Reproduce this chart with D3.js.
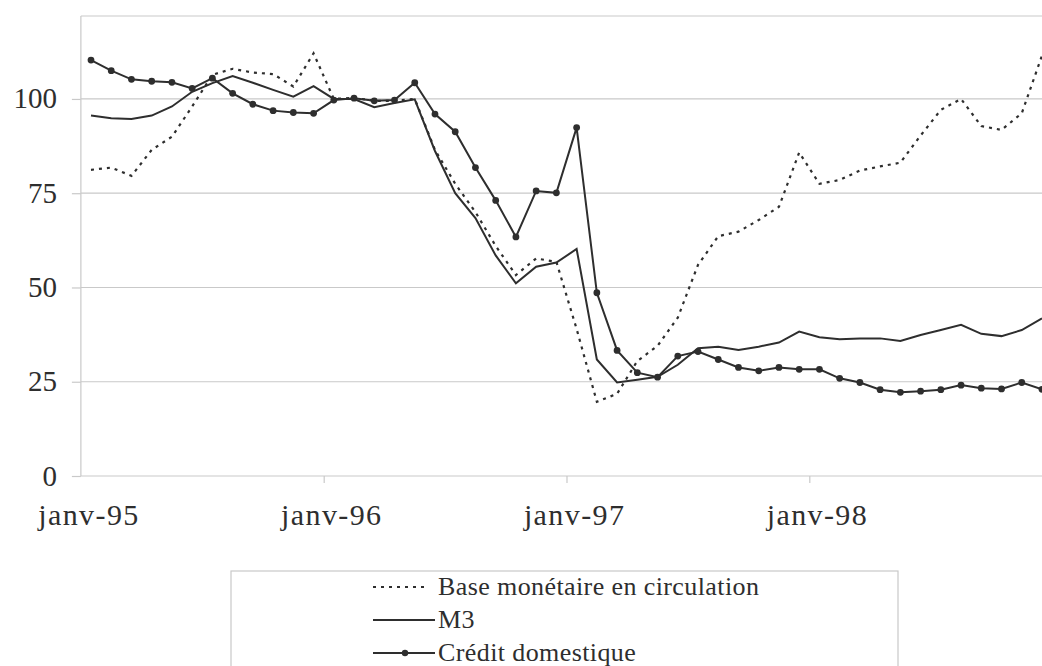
<!DOCTYPE html>
<html>
<head>
<meta charset="utf-8">
<script src="https://cdn.jsdelivr.net/npm/d3@7"></script>
<style>
  body { margin: 0; background: #fff; }
  svg { display: block; font-family: "Liberation Serif", "DejaVu Serif", serif; }
</style>
</head>
<body>
<svg id="chart" width="1042" height="666"></svg>
<script>
// monthly series, janv-95 .. déc-98 (48 months)
const baseMonetaire = [81.2, 81.8, 79.6, 86.5, 90.0, 98.0, 106.4, 108.0, 107.0, 106.6, 103.3, 112.1,
                       100.0, 100.3, 99.5, 99.5, 100.0, 86.5, 77.5, 70.0, 61.0, 53.3, 57.7, 56.8,
                       39.0, 19.7, 21.8, 30.5, 34.5, 42.0, 56.0, 63.6, 64.8, 67.9, 71.4, 85.8,
                       77.5, 78.5, 81.0, 82.1, 83.1, 90.3, 97.1, 100.0, 92.8, 91.8, 96.2, 111.5];
const m3 = [95.6, 94.9, 94.7, 95.6, 98.0, 101.9, 104.2, 106.1, 104.3, 102.4, 100.6, 103.4,
            100.0, 100.0, 97.8, 98.9, 99.9, 86.2, 75.0, 68.4, 58.5, 51.1, 55.5, 56.6,
            60.2, 30.9, 24.8, 25.5, 26.3, 29.5, 33.9, 34.3, 33.4, 34.3, 35.4, 38.3,
            36.8, 36.3, 36.5, 36.5, 35.8, 37.4, 38.7, 40.1, 37.7, 37.1, 38.7, 41.8];
const creditDomestique = [110.3, 107.5, 105.2, 104.7, 104.4, 102.8, 105.5, 101.5, 98.6, 96.9, 96.4, 96.2,
                          99.7, 100.2, 99.5, 99.7, 104.3, 96.0, 91.3, 81.8, 73.1, 63.4, 75.6, 75.1,
                          92.4, 48.6, 33.3, 27.4, 26.2, 31.8, 33.0, 30.9, 28.8, 27.9, 28.8, 28.3,
                          28.3, 25.9, 24.8, 22.9, 22.2, 22.5, 22.9, 24.1, 23.3, 23.1, 24.8, 23.0];

const yTicks = [0, 25, 50, 75, 100];
const yearLabels = ["janv-95", "janv-96", "janv-97", "janv-98"];
const legendLabels = ["Base monétaire en circulation", "M3", "Crédit domestique"];

const ink = "#2e2e2e";
const gridColor = "#c9c9c9";

const svg = d3.select("#chart");

const x = d3.scaleLinear().domain([0, 47]).range([91, 1042]);
const y = d3.scaleLinear().domain([0, 122]).range([476, 16]);

const xLeft = x(-0.5), xRight = 1042;

// grid lines + top frame
svg.append("g")
  .selectAll("line")
  .data(yTicks.slice(1).concat([122]))
  .join("line")
    .attr("x1", xLeft).attr("x2", xRight)
    .attr("y1", d => y(d)).attr("y2", d => y(d))
    .attr("stroke", gridColor).attr("stroke-width", 1.2);

// y axis
let yAxis = svg.append("g")
    .attr("transform", `translate(${xLeft},0)`)
    .call(d3.axisLeft(y).tickValues(yTicks).tickSize(9).tickPadding(15).tickFormat(d3.format("d")));
yAxis.select(".domain").attr("stroke", gridColor).attr("stroke-width", 1.2)
    .attr("d", `M0,${y(122)}V${y(0)}`);
yAxis.selectAll(".tick line").attr("stroke", gridColor).attr("stroke-width", 1.2);
yAxis.selectAll(".tick text")
    .attr("fill", ink).attr("font-size", 29).attr("font-family", "Liberation Serif")
    .attr("dy", null).attr("y", 9);

// x axis: ticks between years, labels under january points
let xAxis = svg.append("g")
    .attr("transform", `translate(0,${y(0)})`)
    .call(d3.axisBottom(x).tickValues([11.5, 23.5, 35.5]).tickSize(7).tickFormat(""));
xAxis.select(".domain").attr("stroke", gridColor).attr("stroke-width", 1.2)
    .attr("d", `M${xLeft},0H${xRight}`);
xAxis.selectAll(".tick line").attr("stroke", gridColor).attr("stroke-width", 1.2);

svg.append("g")
  .selectAll("text")
  .data(yearLabels)
  .join("text")
    .attr("x", (d, i) => x(i * 12) - 2)
    .attr("y", 525)
    .attr("text-anchor", "middle")
    .attr("font-size", 30)
    .attr("letter-spacing", 1.4)
    .attr("fill", ink)
    .text(d => d);

// series
const line = d3.line().x((d, i) => x(i)).y(d => y(d));

svg.append("path")
    .datum(baseMonetaire)
    .attr("d", line)
    .attr("fill", "none").attr("stroke", ink).attr("stroke-width", 2.2)
    .attr("stroke-dasharray", "3,5");

svg.append("path")
    .datum(m3)
    .attr("d", line)
    .attr("fill", "none").attr("stroke", ink).attr("stroke-width", 2);

svg.append("path")
    .datum(creditDomestique)
    .attr("d", line)
    .attr("fill", "none").attr("stroke", ink).attr("stroke-width", 2);

svg.append("g")
  .selectAll("circle")
  .data(creditDomestique)
  .join("circle")
    .attr("cx", (d, i) => x(i))
    .attr("cy", d => y(d))
    .attr("r", 3.4)
    .attr("fill", ink);

// legend
let legend = svg.append("g");
legend.append("rect")
    .attr("x", 231).attr("y", 571)
    .attr("width", 667).attr("height", 120)
    .attr("fill", "#fff").attr("stroke", gridColor).attr("stroke-width", 1.2);

let rows = legend.selectAll("g.row")
  .data(legendLabels)
  .join("g")
    .attr("class", "row")
    .attr("transform", (d, i) => `translate(0,${587 + i * 33})`);

rows.append("line")
    .attr("x1", 373).attr("x2", (d, i) => i === 0 ? 429 : 435)
    .attr("y1", 0).attr("y2", 0)
    .attr("stroke", ink)
    .attr("stroke-width", (d, i) => i === 0 ? 2 : 1.8)
    .attr("stroke-dasharray", (d, i) => i === 0 ? "3,5" : null);

rows.filter((d, i) => i === 2)
  .append("circle")
    .attr("cx", 405).attr("cy", 0).attr("r", 3.2).attr("fill", ink);

rows.append("text")
    .attr("x", 438)
    .attr("y", 8)
    .attr("font-size", 26)
    .attr("letter-spacing", 0.4)
    .attr("fill", ink)
    .text(d => d);
</script>
</body>
</html>
